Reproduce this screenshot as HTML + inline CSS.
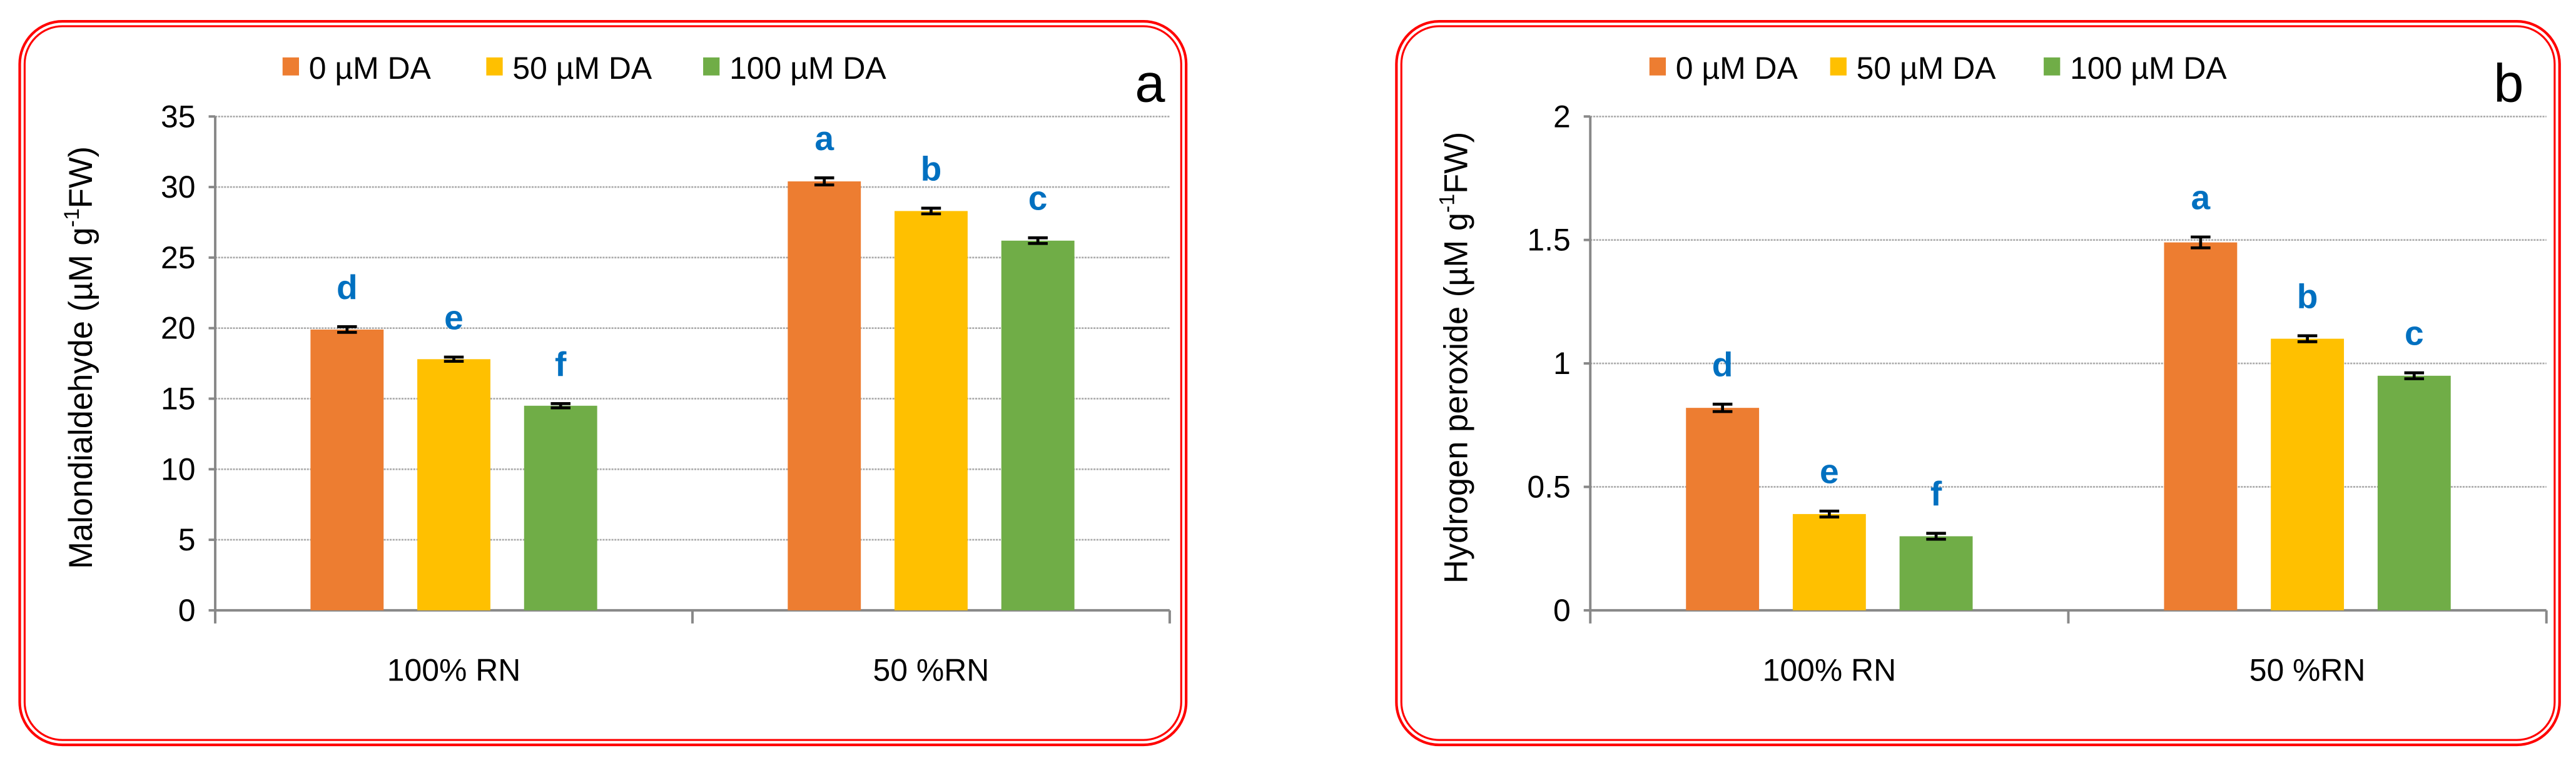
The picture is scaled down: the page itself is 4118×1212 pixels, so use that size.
<!DOCTYPE html>
<html><head><meta charset="utf-8"><style>
html,body{margin:0;padding:0;background:#fff;}
svg{display:block;}
text{font-family:"Liberation Sans",sans-serif;}
</style></head><body>
<svg id="chart" width="4118" height="1212" viewBox="0 0 1568 462" preserveAspectRatio="none" xmlns="http://www.w3.org/2000/svg"></svg>
<script>
const categories = ["100% RN", "50 %RN"];
const seriesNames = ["0 µM DA", "50 µM DA", "100 µM DA"];
const mdaValues = [[19.9, 30.4], [17.8, 28.3], [14.5, 26.2]];
const mdaErrors = [[0.2, 0.25], [0.15, 0.2], [0.15, 0.2]];
const mdaLetters = [["d", "a"], ["e", "b"], ["f", "c"]];
const mdaTicks = [0, 5, 10, 15, 20, 25, 30, 35];
const h2o2Values = [[0.82, 1.49], [0.39, 1.10], [0.30, 0.95]];
const h2o2Errors = [[0.015, 0.022], [0.012, 0.012], [0.012, 0.012]];
const h2o2Letters = [["d", "a"], ["e", "b"], ["f", "c"]];
const h2o2Ticks = [0, 0.5, 1, 1.5, 2];

const colors = ["#ED7D31", "#FFC000", "#70AD47"];
const NS = "http://www.w3.org/2000/svg";
const svg = document.getElementById("chart");
function mk(tag, attrs, parent) {
  const e = document.createElementNS(NS, tag);
  for (const k in attrs) e.setAttribute(k, attrs[k]);
  (parent || svg).appendChild(e);
  return e;
}

function panel(cfg) {
  const g = mk("g", {});
  
  
  const b1 = mk("rect", {x: cfg.bx, y: 13, width: cfg.bw, height: 441, rx: 26, fill: "none", stroke: "#ff0000", "stroke-width": 1.6}, g);
  
  
  mk("rect", {x: cfg.bx + 3, y: 16, width: cfg.bw - 6, height: 435, rx: 23, fill: "none", stroke: "#ff0000", "stroke-width": 1.2}, g);

  const x0 = cfg.axisX, x1 = cfg.right, yTop = 71, yZero = 372;
  const ymax = cfg.ticks[cfg.ticks.length - 1];
  const yScale = v => yZero - (v / ymax) * (yZero - yTop);
  const groupW = (x1 - x0) / categories.length;
  const barW = 44.5, gap = 20.5;
  const xBar = (s, c) => x0 + groupW * c + groupW / 2 + (s - 1) * (barW + gap) - barW / 2;

  cfg.ticks.forEach(t => {
    const y = yScale(t);
    if (t !== 0) {
      const gl = mk("line", {x1: x0, x2: x1, y1: y, y2: y, stroke: "#aaa", "stroke-width": 1, "stroke-dasharray": "1.2 0.6"}, g);
      
      
    }
    mk("line", {x1: x0 - 4, x2: x0, y1: y, y2: y, stroke: "#888", "stroke-width": 1.5}, g);
    const tl = mk("text", {x: x0 - 12, y: y + 6.5, "text-anchor": "end", "font-size": 19, fill: "#000"}, g);
    tl.textContent = t;
    
    
  });
  const ya = mk("line", {x1: x0, x2: x0, y1: yTop, y2: yZero, stroke: "#888", "stroke-width": 1.5}, g);
  
  
  const xa = mk("line", {x1: x0, x2: x1, y1: yZero, y2: yZero, stroke: "#888", "stroke-width": 1.5}, g);
  
  
  for (let c = 0; c <= categories.length; c++) {
    mk("line", {x1: x0 + groupW * c, x2: x0 + groupW * c, y1: yZero, y2: yZero + 8, stroke: "#888", "stroke-width": 1.5}, g);
  }
  categories.forEach((cat, c) => {
    const t = mk("text", {x: x0 + groupW * c + groupW / 2, y: 415, "text-anchor": "middle", "font-size": 19, fill: "#000"}, g);
    t.textContent = cat;
    
    
  });
  cfg.values.forEach((ser, s) => {
    ser.forEach((v, c) => {
      const x = xBar(s, c), y = yScale(v);
      const r = mk("rect", {x: x, y: y, width: barW, height: yZero - y, fill: colors[s]}, g);
      
      
      const e = cfg.errors[s][c];
      const cx = x + barW / 2, ya1 = yScale(v + e), ya2 = yScale(v - e);
      const eb = mk("path", {d: `M${cx - 6} ${ya1}H${cx + 6}M${cx} ${ya1}V${ya2}M${cx - 6} ${ya2}H${cx + 6}`, stroke: "#000", "stroke-width": 1.8, fill: "none"}, g);
      
      
      const lt = mk("text", {x: cx, y: ya1 - 17, "text-anchor": "middle", "font-size": 21, "font-weight": "bold", fill: "#0070C0"}, g);
      lt.textContent = cfg.letters[s][c];
      
      
    });
  });
  cfg.legendX.forEach((lx, s) => {
    const sq = mk("rect", {x: lx, y: 35, width: 10, height: 11, fill: colors[s]}, g);
    
    
    const lt = mk("text", {x: lx + 16, y: 48, "font-size": 19, fill: "#000"}, g);
    lt.textContent = seriesNames[s];
    
    
  });
  const pl = mk("text", {x: cfg.letterX, y: 62, "text-anchor": "middle", "font-size": 33, fill: "#000"}, g);
  pl.textContent = cfg.letter;
  
  
  const yt = mk("text", {x: 0, y: 0, "text-anchor": "middle", "font-size": 20, fill: "#000", transform: `translate(${cfg.titleX},${cfg.titleY}) rotate(-90)`}, g);
  
  
  yt.appendChild(document.createTextNode(cfg.title + " (µM g"));
  const sup = mk("tspan", {dy: -8, "font-size": 13}, yt);
  sup.textContent = "-1";
  const rest = mk("tspan", {dy: 8}, yt);
  rest.textContent = "FW)";
}

panel({name: "panel-a-malondialdehyde", bx: 12, bw: 710, axisX: 131, right: 712, ticks: mdaTicks,
  values: mdaValues, errors: mdaErrors, letters: mdaLetters, legendX: [172, 296, 428],
  letter: "a", letterX: 700, title: "Malondialdehyde", titleX: 56, titleY: 218});
panel({name: "panel-b-hydrogen-peroxide", bx: 850, bw: 708, axisX: 968, right: 1550, ticks: h2o2Ticks,
  values: h2o2Values, errors: h2o2Errors, letters: h2o2Letters, legendX: [1004, 1114, 1244],
  letter: "b", letterX: 1527, title: "Hydrogen peroxide", titleX: 893, titleY: 218});
</script>
</body></html>
